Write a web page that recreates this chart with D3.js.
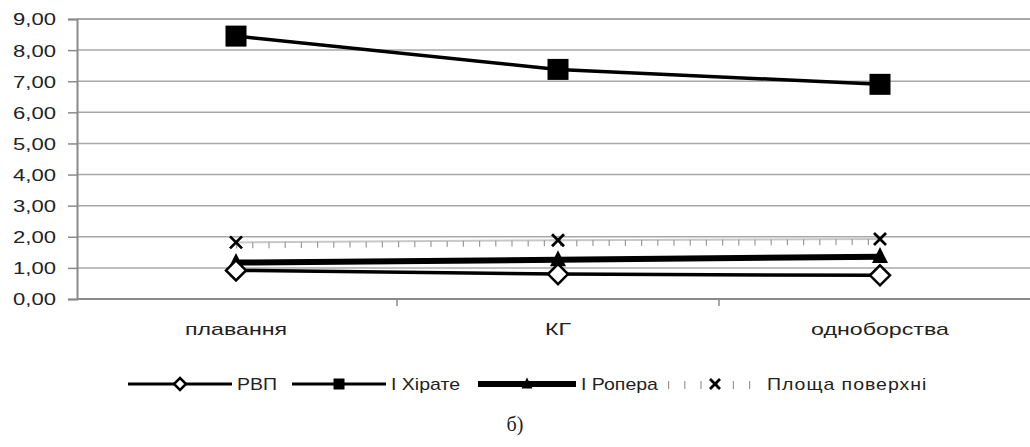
<!DOCTYPE html>
<html><head><meta charset="utf-8">
<script src="https://cdn.jsdelivr.net/npm/d3@7"></script>
<style>body{margin:0;background:#fff}svg{display:block}</style>
</head><body><svg id="c" width="1030" height="447"></svg>
<script>
const categories = ["плавання", "КГ", "одноборства"];
const yTicks = [0, 1, 2, 3, 4, 5, 6, 7, 8, 9];
const rvp = [0.92, 0.80, 0.76];
const hirate = [8.45, 7.38, 6.90];
const ropera = [1.17, 1.26, 1.36];
const plosha = [1.82, 1.89, 1.93];
const seriesNames = ["РВП", "I Хірате", "I Ропера", "Площа поверхні"];

const svg = d3.select("#c");
const font = "'Liberation Sans', Arial, sans-serif";
const x = d3.scalePoint().domain(categories).range([75, 1041]).padding(0.5);
const step = x.step();
const y = d3.scaleLinear().domain([0, 9]).range([299, 19]);

// gridlines
svg.append("g").selectAll("line").data(yTicks).join("line")
  .attr("x1", 77).attr("x2", 1030)
  .attr("y1", d => y(d)).attr("y2", d => y(d))
  .attr("stroke", d => d === 0 ? "#8a8a8a" : "#a8a8a8")
  .attr("stroke-width", d => (d === 0 || d === 9) ? 2.2 : 1.5);

// y axis
const yAxis = d3.axisLeft(y).tickValues(yTicks).tickSize(9)
  .tickFormat(d => d3.format(".2f")(d).replace(".", ","));
const ga = svg.append("g").attr("transform", "translate(77,0)").call(yAxis);
ga.select(".domain").attr("stroke", "#8a8a8a").attr("stroke-width", 2);
ga.selectAll(".tick line").attr("stroke", "#8a8a8a").attr("stroke-width", 1.5);
ga.selectAll(".tick text").attr("font-family", font).attr("font-size", 17)
  .attr("fill", "#222").attr("x", 0).attr("dy", "0.35em")
  .attr("transform", "translate(-21,0) scale(1.3,1)").attr("text-anchor", "end");

// x axis
const gx = svg.append("g").attr("transform", "translate(0,299)");
const bounds = categories.slice(1).map(c => x(c) - step / 2);
gx.selectAll("line.t").data(bounds).join("line").attr("class", "t")
  .attr("x1", d => d).attr("x2", d => d).attr("y1", 0).attr("y2", 7)
  .attr("stroke", "#8a8a8a").attr("stroke-width", 1.5);
gx.selectAll("text").data(categories).join("text")
  .attr("transform", d => `translate(${x(d)},36) scale(1.45,1)`)
  .attr("text-anchor", "middle").attr("font-family", font).attr("font-size", 16)
  .attr("fill", "#222").text(d => d);

const line = d3.line().x((d, i) => x(categories[i])).y(d => y(d));

// Площа поверхні (grey with vertical ticks)
function ploshaLine(g, pts) {
  g.append("path").attr("d", d3.line()(pts)).attr("fill", "none")
    .attr("stroke", "#c8c8c8").attr("stroke-width", 2);
  g.append("path").attr("d", d3.line()(pts.map(p => [p[0], p[1] + 3]))).attr("fill", "none")
    .attr("stroke", "#9a9a9a").attr("stroke-width", 6).attr("stroke-dasharray", "1.2,15");
}
const pPts = plosha.map((d, i) => [x(categories[i]), y(d)]);
ploshaLine(svg.append("g"), pPts);

// lines
svg.append("path").datum(rvp).attr("d", line).attr("fill", "none").attr("stroke", "#000").attr("stroke-width", 3.5);
svg.append("path").datum(ropera).attr("d", line).attr("fill", "none").attr("stroke", "#000").attr("stroke-width", 6);
svg.append("path").datum(hirate).attr("d", line).attr("fill", "none").attr("stroke", "#000").attr("stroke-width", 3.5);

// markers
function diamond(g, cx, cy, r) {
  g.append("path").attr("d", `M${cx},${cy - r}L${cx + r},${cy}L${cx},${cy + r}L${cx - r},${cy}Z`)
    .attr("fill", "#fff").attr("stroke", "#000").attr("stroke-width", 2.5);
}
function square(g, cx, cy, s) {
  g.append("rect").attr("x", cx - s / 2).attr("y", cy - s / 2).attr("width", s).attr("height", s).attr("fill", "#000");
}
function tri(g, cx, cy, s) {
  g.append("path").attr("d", `M${cx},${cy - s * 0.6}L${cx + s / 2},${cy + s * 0.4}L${cx - s / 2},${cy + s * 0.4}Z`).attr("fill", "#000");
}
function cross(g, cx, cy, s) {
  g.append("path").attr("d", `M${cx - s},${cy - s}L${cx + s},${cy + s}M${cx + s},${cy - s}L${cx - s},${cy + s}`)
    .attr("stroke", "#000").attr("stroke-width", 2.8);
}
const m = svg.append("g");
plosha.forEach((d, i) => cross(m, x(categories[i]), y(d), 6));
ropera.forEach((d, i) => tri(m, x(categories[i]), y(d), 16));
rvp.forEach((d, i) => diamond(m, x(categories[i]), y(d), 10));
hirate.forEach((d, i) => square(m, x(categories[i]), y(d), 21));

// legend
const lg = svg.append("g").attr("transform", "translate(0,384)");
const items = [
  {x0: 128, x1: 232, w: 3, mk: (g, c) => diamond(g, c, 0, 6)},
  {x0: 292, x1: 386, w: 3, mk: (g, c) => square(g, c, 0, 11)},
  {x0: 478, x1: 576, w: 6, mk: (g, c) => tri(g, c, 0, 11)},
  {x0: 668, x1: 762, w: 0, mk: (g, c) => cross(g, c, 0, 5)}
];
items.forEach((it, i) => {
  const c = (it.x0 + it.x1) / 2;
  if (it.w > 0) {
    lg.append("line").attr("x1", it.x0).attr("x2", it.x1).attr("y1", 0).attr("y2", 0)
      .attr("stroke", "#000").attr("stroke-width", it.w);
  } else {
    lg.append("line").attr("x1", it.x0).attr("x2", it.x1).attr("y1", 1).attr("y2", 1)
      .attr("stroke", "#999").attr("stroke-width", 8).attr("stroke-dasharray", "1.2,15");
  }
  it.mk(lg, c);
  lg.append("text").attr("transform", `translate(${it.x1 + 5},6) scale(1.22,1)`)
    .attr("font-family", font).attr("font-size", 16).attr("letter-spacing", i === 3 ? 0.8 : 0)
    .attr("fill", "#222").text(seriesNames[i]);
});

svg.append("text").attr("x", 515).attr("y", 431).attr("text-anchor", "middle")
  .attr("font-family", "'Liberation Serif', 'Times New Roman', serif").attr("font-size", 20)
  .attr("fill", "#222").text("б)");
</script></body></html>
